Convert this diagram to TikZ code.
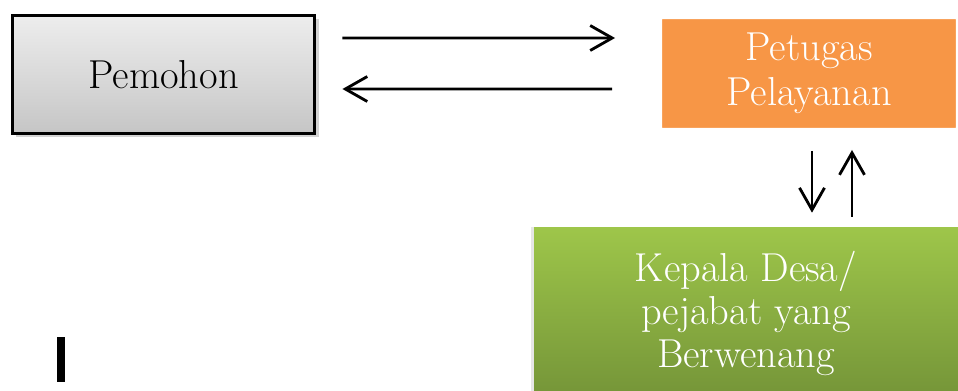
\documentclass[tikz,border=0pt]{standalone}
\usetikzlibrary{arrows.meta,shadows,positioning}
\definecolor{orangebox}{RGB}{247,150,70}
\definecolor{greentop}{RGB}{158,198,74}
\definecolor{greenbot}{RGB}{116,148,56}
\tikzset{
  box/.style={rectangle, align=center, inner sep=0pt, font=\fontsize{23}{25.5}\selectfont},
  arr/.style={-{Straight Barb[length=4.4mm,width=5mm]}, line width=1.6pt},
}
\begin{document}
\begin{tikzpicture}[x=0.02cm,y=-0.02cm]
\useasboundingbox (0,0) rectangle (958,391);
\node[box, draw=black, line width=1.7pt, top color=gray!14, bottom color=gray!45,
  drop shadow={opacity=0.35}, minimum width=6.06cm, minimum height=2.36cm] (pemohon) at (163.5,74.5) {Pemohon};
\node[box, fill=orangebox, draw=white, line width=0.2cm, rounded corners=2pt, text=white,
  drop shadow={opacity=0.4}, minimum width=6.08cm, minimum height=2.38cm] (petugas) at (809,73.5) {Petugas\\Pelayanan};
\node[box, top color=greentop, bottom color=greenbot, text=white, font=\fontsize{23}{24.4}\selectfont,
  drop shadow={shadow xshift=-2pt, shadow yshift=0pt, opacity=0.2},
  minimum width=8.48cm, minimum height=3.46cm] (kepala) at (746,313.5) {Kepala Desa/\\pejabat yang\\Berwenang};

\draw[arr] ([shift={(26,24)}]pemohon.north east) -- ([shift={(-37,29)}]petugas.north west);
\draw[arr] ([shift={(-40,80)}]petugas.north west) -- ([shift={(26,75)}]pemohon.north east);
\draw[arr] ([shift={(3,13)}]petugas.south) -- ([shift={(3,-14)}]petugas.south |- kepala.north);
\draw[arr] ([shift={(43,-10)}]petugas.south |- kepala.north) -- ([shift={(43,12)}]petugas.south);

\fill (57,337) rectangle (65,382);
\end{tikzpicture}
\end{document}
